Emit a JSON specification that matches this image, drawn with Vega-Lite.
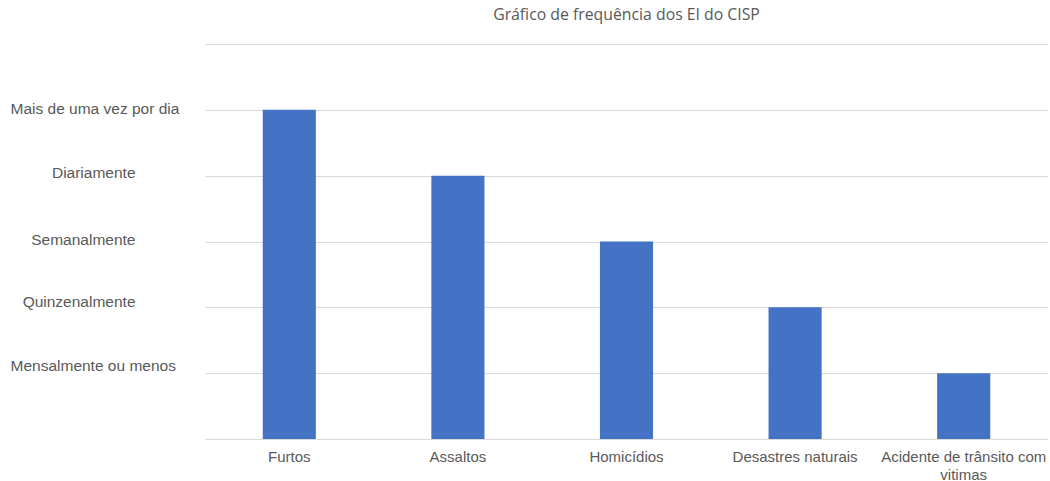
{
  "$schema": "https://vega.github.io/schema/vega-lite/v6.json",
  "autosize": "none",
  "width": 843,
  "height": 395,
  "padding": {"left": 205, "top": 44, "right": 2, "bottom": 42},
  "background": "white",
  "title": {
    "text": "Gráfico de frequência dos EI do CISP",
    "font": "Open Sans",
    "fontSize": 15.8,
    "fontWeight": "normal",
    "color": "#595959",
    "anchor": "middle",
    "baseline": "alphabetic",
    "offset": 8
  },
  "data": {
    "values": [
      {"evento": "Furtos", "frequencia": 5},
      {"evento": "Assaltos", "frequencia": 4},
      {"evento": "Homicídios", "frequencia": 3},
      {"evento": "Desastres naturais", "frequencia": 2},
      {"evento": "Acidente de trânsito com vitimas", "frequencia": 1}
    ]
  },
  "mark": {"type": "bar", "color": "#4472C4"},
  "encoding": {
    "x": {
      "field": "evento",
      "type": "nominal",
      "sort": null,
      "scale": {"paddingInner": 0.685, "paddingOuter": 0.3425},
      "axis": {
        "title": null,
        "domain": false,
        "ticks": false,
        "labelAngle": 0,
        "labelFont": "Liberation Sans",
        "labelFontSize": 15,
        "labelColor": "#595959",
        "labelPadding": 10,
        "labelLineHeight": 18,
        "labelLimit": 300,
        "labelExpr": "datum.value == 'Acidente de trânsito com vitimas' ? ['Acidente de trânsito com', 'vitimas'] : datum.value"
      }
    },
    "y": {
      "field": "frequencia",
      "type": "quantitative",
      "scale": {"domain": [0, 6], "nice": false},
      "axis": {
        "title": null,
        "domain": false,
        "ticks": false,
        "values": [0, 1, 2, 3, 4, 5, 6],
        "gridColor": "#d9d9d9",
        "gridWidth": 1,
        "labelFont": "Liberation Sans",
        "labelFontSize": 15.5,
        "labelColor": "#595959",
        "labelBaseline": "middle",
        "labelOffset": {
          "condition": [
            {"test": "datum.value == 5", "value": -1.7},
            {"test": "datum.value == 4", "value": -3.3},
            {"test": "datum.value == 3", "value": -2.4},
            {"test": "datum.value == 2", "value": -5.8}
          ],
          "value": -7.3
        },
        "labelLimit": 300,
        "labelAlign": {"condition": {"test": "datum.value == 5 || datum.value == 1", "value": "left"}, "value": "right"},
        "labelPadding": {"condition": {"test": "datum.value == 5 || datum.value == 1", "value": 195}, "value": 70},
        "labelExpr": "datum.value == 5 ? 'Mais de uma vez por dia' : datum.value == 4 ? 'Diariamente' : datum.value == 3 ? 'Semanalmente' : datum.value == 2 ? 'Quinzenalmente' : datum.value == 1 ? 'Mensalmente ou menos' : ''"
      }
    }
  },
  "config": {"view": {"stroke": null}}
}
